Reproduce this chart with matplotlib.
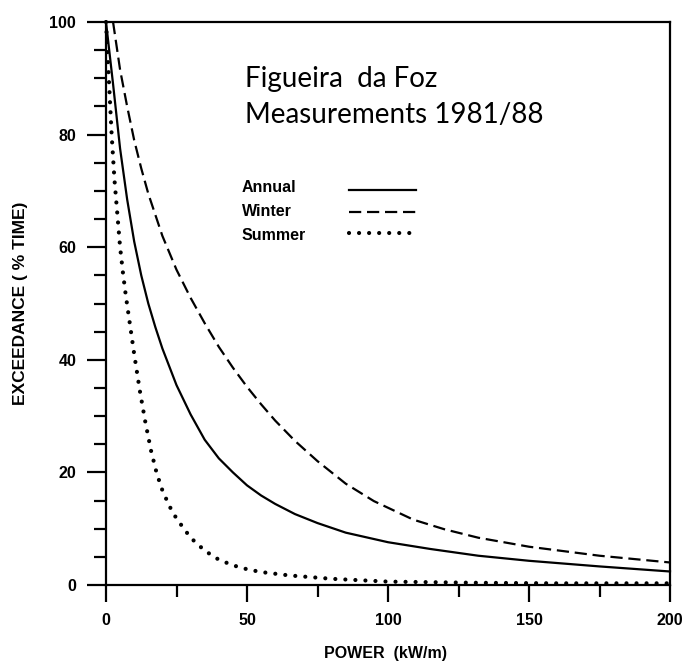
import matplotlib
matplotlib.use("Agg")
import matplotlib.pyplot as plt
from matplotlib.lines import Line2D

# ---- data ----
annual_x = [0, 2.5, 5, 7.5, 10, 12.5, 15, 17.5, 20, 25, 30, 35, 40, 45, 50, 55, 60, 67, 75, 85, 100, 115, 132, 150, 175, 200]
annual_y = [100, 89, 77.5, 68.5, 61, 55, 50, 45.8, 42, 35.5, 30.3, 25.8, 22.5, 20.0, 17.7, 15.9, 14.4, 12.6, 11.0, 9.3, 7.6, 6.4, 5.2, 4.3, 3.3, 2.4]

winter_x = [2.5, 5, 7.5, 10, 12.5, 15, 20, 25, 30, 35, 40, 45, 50, 55, 60, 67, 75, 85, 95, 109, 120, 132, 150, 175, 200]
winter_y = [100, 91.5, 85, 79, 74, 69.5, 62, 56, 51, 46.5, 42.3, 38.6, 35.2, 32.1, 29.2, 25.6, 22.0, 18.0, 14.9, 11.6, 9.9, 8.4, 6.8, 5.2, 4.0]

summer_x = [0, 1, 2, 3, 4, 5, 6, 7, 8, 9, 10, 12, 14, 16, 18, 20, 22.5, 25, 30, 35, 40, 45, 50, 55, 65, 80, 100, 130, 160, 200]
summer_y = [100, 90, 80, 72, 66, 60, 55.5, 51.5, 48, 44.5, 41, 34.5, 28.8, 23.8, 19.8, 16.8, 14, 11.8, 8.4, 6.1, 4.5, 3.5, 2.8, 2.3, 1.7, 1.1, 0.6, 0.4, 0.3, 0.3]

series_names = ["Annual", "Winter", "Summer"]
x_ticks = [0, 50, 100, 150, 200]
y_ticks = [0, 20, 40, 60, 80, 100]
title_lines = ["Figueira  da Foz", "Measurements 1981/88"]

plt.rcParams['font.family'] = ['Liberation Sans', 'DejaVu Sans']

fig = plt.figure(figsize=(6.88, 6.65), dpi=100)
ax = fig.add_axes([106/688, 1 - 585/665, 564/688, 563/665])

lw = 1.6
styles = [
    dict(color='black', lw=lw, linestyle='-'),
    dict(color='black', lw=lw, linestyle=(0, (5.5, 2.6))),
    dict(color='black', lw=3.0, linestyle=(0, (0.01, 2.4)), dash_capstyle='round'),
]
ax.plot(annual_x, annual_y, clip_on=False, **styles[0])
ax.plot(winter_x, winter_y, clip_on=False, **styles[1])
ax.plot(summer_x, summer_y, clip_on=False, **styles[2])

ax.set_xlim(0, 200)
ax.set_ylim(0, 100)
ax.set_xticks(x_ticks)
ax.set_yticks(y_ticks)
ax.set_xticks(range(0, 201, 25), minor=True)
ax.set_yticks(range(0, 101, 5), minor=True)
for s in ax.spines.values():
    s.set_linewidth(1.6)
ax.tick_params(axis='both', which='major', direction='out', width=1.6, labelsize=11.5)
ax.tick_params(axis='y', which='major', length=13.5, pad=8)
ax.tick_params(axis='x', which='major', length=12, pad=8)
ax.tick_params(axis='both', which='minor', direction='out', width=1.6, length=8.5)
for lab in ax.get_xticklabels() + ax.get_yticklabels():
    lab.set_fontweight('bold')

ax.set_xlabel("POWER  (kW/m)", fontsize=11.5, fontweight='bold')
ax.xaxis.set_label_coords(0.496, -0.108)
ax.set_ylabel("EXCEEDANCE ( % TIME)", fontsize=12.5, fontweight='bold')
ax.yaxis.set_label_coords(-0.138, 0.5)

# title block
tfam = ['Lato', 'DejaVu Sans']
ax.text(0.246, 0.885, title_lines[0], transform=ax.transAxes, fontsize=20,
        family=tfam, ha='left', va='baseline')
ax.text(0.246, 0.821, title_lines[1], transform=ax.transAxes, fontsize=20,
        family=tfam, ha='left', va='baseline')

# legend: names as text, line samples through legend
for i, name in enumerate(series_names):
    ax.text(0.241, 0.698 - i * 0.0425, name, transform=ax.transAxes,
            fontsize=11.5, fontweight='bold', ha='left', va='baseline')
handles = [Line2D([], [], **st) for st in styles]
leg = ax.legend(handles, ['', '', ''], loc='upper left', bbox_to_anchor=(0.43, 0.712),
                frameon=False, handlelength=3.9, handletextpad=0, labelspacing=0.36,
                fontsize=12.5, borderpad=0, borderaxespad=0)

fig.savefig("out.png", dpi=100)
